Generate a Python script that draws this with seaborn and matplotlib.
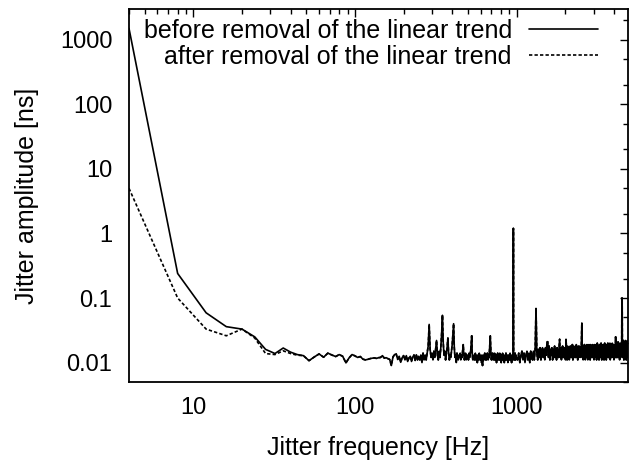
import numpy as np
import pandas as pd
import matplotlib
matplotlib.use("Agg")
import matplotlib.pyplot as plt
import seaborn as sns
from matplotlib.ticker import FixedLocator, FixedFormatter, LogLocator, NullFormatter

# ---------------- data (amplitudes in ns) ----------------
# low-frequency part, 4 Hz resolution, 4..44 Hz
freq_low = [4, 8, 12, 16, 20, 24, 28, 32, 36, 40, 44]
before_low = [1500, 0.24, 0.059, 0.036, 0.033, 0.025, 0.016, 0.0138, 0.0168, 0.0145, 0.0133]
after_low = [5.0, 0.10, 0.033, 0.026, 0.033, 0.024, 0.0138, 0.0133, 0.0152, 0.0138, 0.0130]

# common part (both curves coincide), 48..248 Hz, step 4 Hz, values in 1e-3 ns
common_a_start, common_a_step = 48, 4
common_a = [12.8, 10.7, 12.2, 13.6, 12.1, 14.0, 13.1, 12.4, 13.3, 12.5, 9.9, 11.8, 13.3, 12.7,
            12.0, 12.4, 11.3, 11.0, 11.2, 11.5, 11.7, 11.8, 11.6, 11.9, 12.0, 12.8, 11.7, 11.9,
            11.5, 11.2, 9.0, 12.2, 13.3, 13.6, 11.2, 12.5, 10.1, 11.9, 12.8, 11.0, 12.8, 10.4,
            11.8, 12.5, 10.4, 12.2, 13.1, 10.8, 13.1, 11.0, 12.5]

# 252..1000 Hz, step 4 Hz, values in 1e-3 ns
common_b_start, common_b_step = 252, 4
common_b = [11, 13, 10, 14, 11, 13, 11, 14, 18, 39, 16, 12, 14, 11, 15, 12, 16, 22, 13, 11,
            15, 12, 17, 28, 54, 20, 13, 15, 11, 14, 17, 24, 14, 11, 13, 12, 15, 19, 28, 40,
            17, 12, 13, 10, 14, 12, 11, 13, 12, 14, 11, 13, 12, 15, 19, 13, 11, 12, 14, 11,
            13, 12, 13, 11, 14, 12, 13, 15, 19, 26, 14, 11, 12, 13, 11, 12, 14, 11, 13, 12,
            10, 13, 12, 11, 14, 12, 11, 13, 12, 10, 13, 9, 12, 11, 13, 12, 14, 11, 12, 13,
            11, 12, 14, 12, 11, 13, 12, 15, 20, 26, 18, 12, 11, 13, 12, 14, 11, 12, 13, 11,
            14, 12, 11, 13, 12, 10, 13, 12, 14, 11, 12, 13, 11, 12, 14, 11, 13, 12, 10, 13,
            12, 11, 14, 12, 11, 13, 12, 10, 12, 13, 11, 12, 14, 11, 12, 13, 11, 12, 10, 13,
            12, 11, 13, 12, 11, 14, 12, 11, 13, 12, 10, 12, 13, 11, 13, 12, 1200, 12, 11, 13,
            12, 11, 14, 12, 11, 13, 12, 12]

# 1016..4888 Hz, step 16 Hz, values in 1e-3 ns
common_c_start, common_c_step = 1016, 16
common_c = [11, 14, 10, 13, 15, 11, 14, 10, 13, 15,
            11, 14, 10, 15, 12, 11, 15, 11, 16, 69,
            14, 11, 16, 12, 17, 11, 15, 17, 12, 16,
            11, 17, 13, 21, 21, 12, 18, 11, 16, 13,
            17, 11, 16, 12, 18, 12, 16, 11, 17, 13,
            12, 17, 23, 12, 17, 11, 16, 18, 12, 17,
            12, 17, 11, 23, 16, 11, 18, 12, 17, 11,
            16, 18, 12, 17, 12, 19, 11, 16, 18, 12,
            17, 12, 16, 19, 12, 17, 11, 18, 13, 16,
            18, 12, 17, 13, 20, 41, 12, 18, 11, 17,
            12, 19, 14, 11, 18, 15, 12, 19, 14, 11,
            18, 13, 19, 12, 17, 11, 19, 13, 18, 12,
            17, 19, 12, 18, 13, 11, 19, 15, 12, 18,
            13, 19, 11, 17, 20, 12, 18, 13, 17, 11,
            19, 13, 18, 12, 17, 20, 13, 11, 18, 15,
            12, 19, 13, 18, 11, 17, 20, 12, 18, 13,
            17, 11, 19, 13, 18, 12, 20, 15, 12, 19,
            12, 18, 13, 20, 11, 17, 19, 13, 18, 12,
            17, 20, 13, 18, 12, 19, 15, 11, 18, 13,
            19, 14, 12, 25, 17, 12, 20, 12, 17, 19,
            12, 18, 21, 12, 17, 20, 13, 19, 11, 18,
            14, 20, 12, 19, 13, 18, 14, 100, 100, 13,
            19, 12, 22, 14, 20, 11, 18, 21, 12, 19,
            14, 22, 12, 20, 16, 11, 21, 13, 19, 12, 22, 15, 17]

labels = ["before removal of the linear trend", "after removal of the linear trend"]
x_ticks = [10, 100, 1000]
y_ticks = [0.01, 0.1, 1, 10, 100, 1000]
y_ticklabels = ["0.01", "0.1", "1", "10", "100", "1000"]

# ---------------- assemble ----------------
def seg(start, step, vals):
    f = start + step * np.arange(len(vals))
    return f, np.asarray(vals, dtype=float) * 1e-3

fa, va = seg(common_a_start, common_a_step, common_a)
fb, vb = seg(common_b_start, common_b_step, common_b)
fc, vc = seg(common_c_start, common_c_step, common_c)
f_common = np.concatenate([fa, fb, fc])
v_common = np.concatenate([va, vb, vc])

freq = np.concatenate([freq_low, f_common])
df = pd.concat([
    pd.DataFrame({"f": freq, "amp": np.concatenate([before_low, v_common]), "series": labels[0]}),
    pd.DataFrame({"f": freq, "amp": np.concatenate([after_low, v_common]), "series": labels[1]}),
], ignore_index=True)

# ---------------- plot ----------------
sns.set_theme(style="white")
plt.rcParams["font.family"] = ["Liberation Sans", "DejaVu Sans"]

fig = plt.figure(figsize=(6.34, 4.65), dpi=100)
ax = fig.add_axes([129 / 634, 1 - 382 / 465, 499 / 634, 373 / 465])

sns.lineplot(data=df[df.series == labels[1]], x="f", y="amp", ax=ax, color="black",
             lw=1.2, dashes=False, linestyle=(0, (2.0, 1.3)), label=labels[1], sort=False,
             estimator=None)
sns.lineplot(data=df[df.series == labels[0]], x="f", y="amp", ax=ax, color="black",
             lw=1.2, label=labels[0], sort=False, estimator=None)

ax.set_xscale("log")
ax.set_yscale("log")
ax.set_xlim(4, 4895)
ax.set_ylim(0.005, 3000)

ax.xaxis.set_major_locator(FixedLocator(x_ticks))
ax.xaxis.set_major_formatter(FixedFormatter([str(t) for t in x_ticks]))
ax.xaxis.set_minor_locator(LogLocator(base=10, subs=np.arange(2, 10)))
ax.xaxis.set_minor_formatter(NullFormatter())
ax.yaxis.set_major_locator(FixedLocator(y_ticks))
ax.yaxis.set_major_formatter(FixedFormatter(y_ticklabels))
ax.yaxis.set_minor_locator(LogLocator(base=10, subs=(2, 5)))
ax.yaxis.set_minor_formatter(NullFormatter())

ax.tick_params(which="both", direction="in", top=True, right=True, color="black",
               width=1.0, labelsize=17, labelcolor="black")
ax.tick_params(which="major", length=5.5)
ax.tick_params(which="minor", length=3.5)
ax.tick_params(axis="x", which="major", pad=11)
ax.tick_params(axis="y", which="major", pad=12)

for s in ax.spines.values():
    s.set_color("black")
    s.set_linewidth(1.3)
    s.set_visible(True)

ax.set_xlabel("Jitter frequency [Hz]", fontsize=18, color="black", labelpad=12)
ax.set_ylabel("Jitter amplitude [ns]", fontsize=18, color="black", labelpad=15)

handles, labs = ax.get_legend_handles_labels()
order = [labs.index(labels[0]), labs.index(labels[1])]
leg = ax.legend([handles[i] for i in order], [labs[i] for i in order],
                loc="upper right", bbox_to_anchor=(598 / 634, 1 - 19 / 465),
                bbox_transform=fig.transFigure, frameon=False, markerfirst=False,
                fontsize=18, handlelength=2.75, handletextpad=0.7, labelspacing=0.08,
                borderpad=0, borderaxespad=0)
for t in leg.get_texts():
    t.set_color("black")

fig.savefig("out.png", dpi=100, facecolor="white")
